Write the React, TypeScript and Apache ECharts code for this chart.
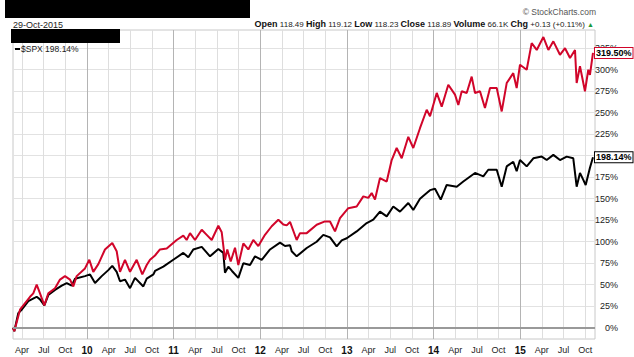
import React, { useEffect, useRef } from "react";
import * as echarts from "echarts";

// x values: months since Jan 2009 (fractional); y values: % change
const spxPoints: [number, number][] = [
  [1.75, 0], [1.93, -4], [2.48, 17], [2.96, 21], [3.87, 31], [4.8, 35], [5.03, 36], [5.49, 33],
  [6.09, 26], [6.64, 38], [7.57, 44], [8.5, 49], [9.19, 52], [9.88, 49], [10.34, 57], [11.72, 60],
  [12.42, 62], [13.11, 52], [14.04, 60], [14.95, 67], [15.5, 72], [16.11, 65], [16.57, 54], [17.26, 56],
  [17.96, 46], [18.65, 58], [19.8, 48], [20.27, 57], [21.2, 62], [21.42, 66], [22.57, 71], [23.95, 79],
  [25.34, 87], [26.03, 82], [26.72, 91], [27.89, 94], [29.04, 83], [30.19, 91.5], [30.88, 87], [31.11, 64],
  [31.57, 71], [32.08, 66], [32.96, 58], [33.65, 75], [34.58, 73], [35.27, 83], [36.2, 79], [37.35, 91],
  [38.73, 99], [39.42, 95], [40.12, 96], [40.35, 89], [41.04, 83], [42.43, 92.7], [43.81, 100], [44.73, 108],
  [45.66, 105], [46.58, 94.5], [47.28, 101.6], [47.97, 104], [49.35, 112], [50.74, 121.7], [51.65, 125.6], [52.58, 135],
  [53.51, 129.5], [54.42, 141], [55.35, 135], [56.5, 145], [57.19, 137], [58.12, 150], [59.05, 156.6], [59.51, 160],
  [60.2, 161.7], [60.99, 149], [61.82, 166], [63.21, 164], [64.12, 170], [65.74, 180], [66.89, 176], [67.58, 183.7],
  [68.75, 183.7], [69.44, 164], [70.13, 187.6], [71.04, 193], [71.51, 182], [71.97, 195], [72.9, 187.6], [73.82, 197],
  [74.98, 199], [75.67, 195], [76.59, 201], [77.51, 195], [78.44, 199], [79.35, 197], [79.82, 164], [80.28, 180],
  [80.74, 172], [81.07, 166], [81.66, 186], [82.08, 198.14],
];

const stockPoints: [number, number][] = [
  [1.75, 0], [1.93, -4], [2.72, 21], [4.11, 36], [4.56, 40], [5.03, 50], [5.49, 40], [6.09, 26],
  [6.64, 40], [7.57, 46], [8.26, 56], [8.95, 60], [9.65, 56], [10.1, 48], [10.57, 60], [11.72, 69],
  [12.32, 79], [12.87, 65], [13.57, 74], [14.49, 91], [15.5, 98.5], [16.11, 89], [16.57, 65], [17.26, 79],
  [17.96, 65], [18.88, 79], [19.66, 62], [20.27, 73], [20.73, 79], [21.42, 84], [22.11, 91], [23.04, 92],
  [24.42, 102], [25.34, 107], [25.8, 102], [26.27, 110], [26.96, 102], [27.89, 114], [28.58, 108], [29.27, 102],
  [30.19, 118.6], [30.66, 111], [31.11, 79], [31.43, 91], [31.9, 77], [32.5, 93], [32.96, 73], [33.65, 98],
  [34.34, 91], [35.03, 102], [35.73, 95], [36.65, 108], [37.58, 118], [38.5, 125.6], [39.19, 120], [39.66, 119],
  [40.12, 123], [41.04, 102], [41.5, 110], [42.43, 110], [43.81, 119.8], [44.96, 123.6], [45.66, 123.6], [46.35, 112],
  [47.04, 127.5], [48.19, 139], [49.35, 141], [50.27, 152.7], [50.96, 151], [51.43, 156.6], [51.89, 149], [52.58, 174],
  [53.51, 170], [54.2, 195], [54.89, 209], [55.59, 197], [56.5, 222], [57.19, 209], [58.12, 232], [59.05, 253.5],
  [59.51, 246], [60.44, 273], [61.13, 257], [62.04, 282.6], [62.97, 271], [63.43, 259], [63.9, 275], [64.59, 273],
  [65.28, 292], [65.74, 273], [66.43, 275], [67.12, 255.5], [67.82, 278.7], [68.75, 278.7], [69.44, 251.5], [70.13, 284.5],
  [71.04, 296], [71.51, 278.7], [71.97, 305.8], [72.9, 300], [73.59, 331], [74.29, 323], [75.21, 338], [75.9, 323],
  [76.59, 333], [77.51, 317.4], [78.21, 325], [78.9, 313.6], [79.59, 323], [79.82, 284.5], [80.28, 304], [80.97, 275],
  [81.43, 300], [81.66, 294], [82.08, 319.5],
];

const xTickMonths: number[] = [];
for (let m = 3; m <= 81; m += 3) xTickMonths.push(m);
const yTicks = [0, 25, 50, 75, 100, 125, 150, 175, 200, 225, 250, 275, 300, 325];
const monthNames: Record<number, string> = { 3: "Apr", 6: "Jul", 9: "Oct" };

const headerDate = "29-Oct-2015";
const quote = [
  ["Open", "118.49"], ["High", "119.12"], ["Low", "118.23"], ["Close", "118.89"],
  ["Volume", "66.1K"], ["Chg", "+0.13 (+0.11%)"],
];
const legendText = "$SPX 198.14%";

const FONT = "'Liberation Sans', Arial, sans-serif";

function endLabel(border: string) {
  return {
    show: true,
    formatter: (p: any) => `${p.value[1].toFixed(2)}%`,
    backgroundColor: "#fff",
    borderColor: border,
    borderWidth: 1,
    padding: [1, 1, 0, 1],
    fontWeight: "bold",
    fontSize: 9,
    color: "#000",
    distance: 2,
    fontFamily: FONT,
  };
}

export default function App() {
  const ref = useRef<HTMLDivElement>(null);
  useEffect(() => {
    if (!ref.current) return;
    const chart = echarts.init(ref.current, undefined, { renderer: "svg" });
    const quoteText = quote.map(([k, v]) => `{b|${k}} {n|${v}}`).join(" ") + " {g|▲}";
    chart.setOption({
      animation: false,
      backgroundColor: "#fff",
      textStyle: { fontFamily: FONT },
      grid: { left: 13, right: 39, top: 30, bottom: 18, show: true, borderColor: "#c8c8c8", borderWidth: 1 },
      xAxis: {
        type: "value",
        min: 1.75,
        max: 82.36,
        axisLine: { show: false },
        axisTick: { show: false, customValues: xTickMonths },
        axisLabel: {
          customValues: xTickMonths,
          fontSize: 9,
          color: "#222",
          margin: 6,
          fontFamily: FONT,
          formatter: (v: number) => {
            const mm = Math.round(v) % 12;
            if (mm === 0) return `{y|${String(2009 + Math.round(v) / 12).slice(2)}}`;
            return monthNames[mm] || "";
          },
          rich: { y: { fontWeight: "bold", fontSize: 10, color: "#111", fontFamily: FONT } },
        },
        splitLine: { show: true, lineStyle: { color: ["#dedede", "#dedede", "#dedede", "#b4b4b4"], width: 1 } },
      },
      yAxis: {
        type: "value",
        position: "right",
        min: -13.1,
        max: 346.2,
        axisLine: { show: false },
        axisTick: { show: false, customValues: yTicks },
        axisLabel: {
          customValues: yTicks,
          fontSize: 9,
          color: "#222",
          margin: 23,
          align: "right",
          fontFamily: FONT,
          formatter: (v: number) => `${v}%`,
        },
        splitLine: { show: true, lineStyle: { color: "#e2e2e2", width: 1 } },
      },
      series: [
        {
          type: "line",
          name: "$SPX",
          data: spxPoints,
          showSymbol: false,
          lineStyle: { color: "#000", width: 2 },
          itemStyle: { color: "#000" },
          z: 3,
          endLabel: endLabel("#000"),
          markLine: {
            silent: true,
            symbol: "none",
            label: { show: false },
            lineStyle: { color: "#999", width: 2, type: "solid" },
            data: [{ yAxis: 0 }],
          },
        },
        {
          type: "line",
          name: "Stock",
          data: stockPoints,
          showSymbol: false,
          lineStyle: { color: "#d1052a", width: 2 },
          itemStyle: { color: "#d1052a" },
          z: 4,
          endLabel: endLabel("#d1052a"),
        },
      ],
      graphic: [
        { type: "rect", shape: { x: 5, y: 0, width: 245, height: 18 }, style: { fill: "#000" } },
        { type: "rect", shape: { x: 11, y: 29, width: 109, height: 14 }, style: { fill: "#000" }, z: 10 },
        {
          type: "text", x: 13, y: 25,
          style: { text: headerDate, fontSize: 9, fill: "#222", fontFamily: FONT, verticalAlign: "middle" },
        },
        {
          type: "text", x: 594, y: 24,
          style: {
            text: quoteText, align: "right", verticalAlign: "middle", fontFamily: FONT, fontSize: 8,
            rich: {
              b: { fontWeight: "bold", fontSize: 9, fill: "#111", fontFamily: FONT },
              n: { fontSize: 8, fill: "#222", fontFamily: FONT },
              g: { fontSize: 7, fill: "#1a9a3a", fontFamily: FONT },
            },
          },
        },
        {
          type: "text", x: 596, y: 12,
          style: { text: "© StockCharts.com", align: "right", verticalAlign: "middle", fontSize: 8.5, fill: "#555", fontFamily: FONT },
        },
        { type: "rect", shape: { x: 15, y: 48, width: 5, height: 2 }, style: { fill: "#000" }, z: 10 },
        {
          type: "text", x: 21, y: 49, z: 10,
          style: { text: legendText, fontSize: 8.5, fill: "#222", fontFamily: FONT, verticalAlign: "middle" },
        },
      ],
    });
    return () => chart.dispose();
  }, []);
  return <div ref={ref} style={{ width: 634, height: 357, position: "absolute", left: 0, top: 0 }} />;
}
